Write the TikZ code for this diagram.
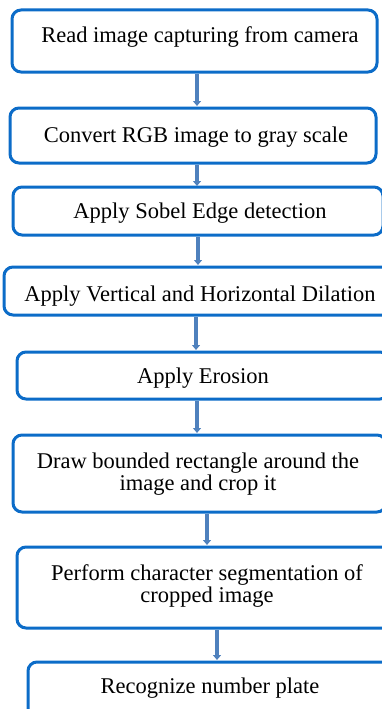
\documentclass[tikz,border=0pt]{standalone}
\usepackage{fontspec}
\setmainfont{Liberation Serif}
\usetikzlibrary{arrows.meta}
\definecolor{boxblue}{RGB}{12,108,200}
\definecolor{arrblue}{RGB}{79,129,189}
\begin{document}
\begin{tikzpicture}[x=1pt,y=-1pt,
  stepbox/.style={draw=boxblue,line width=3pt,rounded corners=9pt,fill=white},
  lbl/.style={font=\fontsize{22.5}{22}\selectfont,align=center,inner sep=0pt},
  flow/.style={draw=arrblue,line width=3.5pt,-{Triangle[length=5pt,width=8pt]}}]
\useasboundingbox (0,0) rectangle (382,709);
\begin{scope}
\clip (0,0) rectangle (382,709);
% boxes
\draw[stepbox] (12,10) rectangle (377,72);
\draw[stepbox] (10,108) rectangle (376,163);
\draw[stepbox] (13,187) rectangle (383,235);
\draw[stepbox] (4,267) rectangle (396,315);
\draw[stepbox] (17,352) rectangle (389,399);
\draw[stepbox] (13,435) rectangle (386,512);
\draw[stepbox] (17,547) rectangle (397,628);
\draw[stepbox] (28,662) rectangle (392,725);
\end{scope}
% texts
\node[lbl,anchor=base] (t1) at (200,43) {Read image capturing from camera};
\node[lbl,anchor=base] (t2) at (196,142) {Convert RGB image to gray scale};
\node[lbl,anchor=base] (t3) at (200,218) {Apply Sobel Edge detection};
\node[lbl,anchor=base] (t4) at (200,301) {Apply Vertical and Horizontal Dilation};
\node[lbl,anchor=base] (t5) at (203,383) {Apply Erosion};
\node[lbl] (t6) at (198,474) {Draw bounded rectangle around the\\image and crop it};
\node[lbl] (t7) at (207,586) {Perform character segmentation of\\cropped image};
\node[lbl,anchor=base] (t8) at (210,693) {Recognize number plate};
% arrow anchor coordinates
\coordinate (a1s) at (197,74); \coordinate (a1e) at (197,106);
\coordinate (a2s) at (197,165); \coordinate (a2e) at (197,186);
\coordinate (a3s) at (198,237); \coordinate (a3e) at (198,265);
\coordinate (a4s) at (196,317); \coordinate (a4e) at (196,350);
\coordinate (a5s) at (197,401); \coordinate (a5e) at (197,433);
\coordinate (a6s) at (207,514); \coordinate (a6e) at (207,545);
\coordinate (a7s) at (217,630); \coordinate (a7e) at (217,660);
\draw[flow] (a1s) -- (a1e);
\draw[flow] (a2s) -- (a2e);
\draw[flow] (a3s) -- (a3e);
\draw[flow] (a4s) -- (a4e);
\draw[flow] (a5s) -- (a5e);
\draw[flow] (a6s) -- (a6e);
\draw[flow] (a7s) -- (a7e);
\end{tikzpicture}
\end{document}
